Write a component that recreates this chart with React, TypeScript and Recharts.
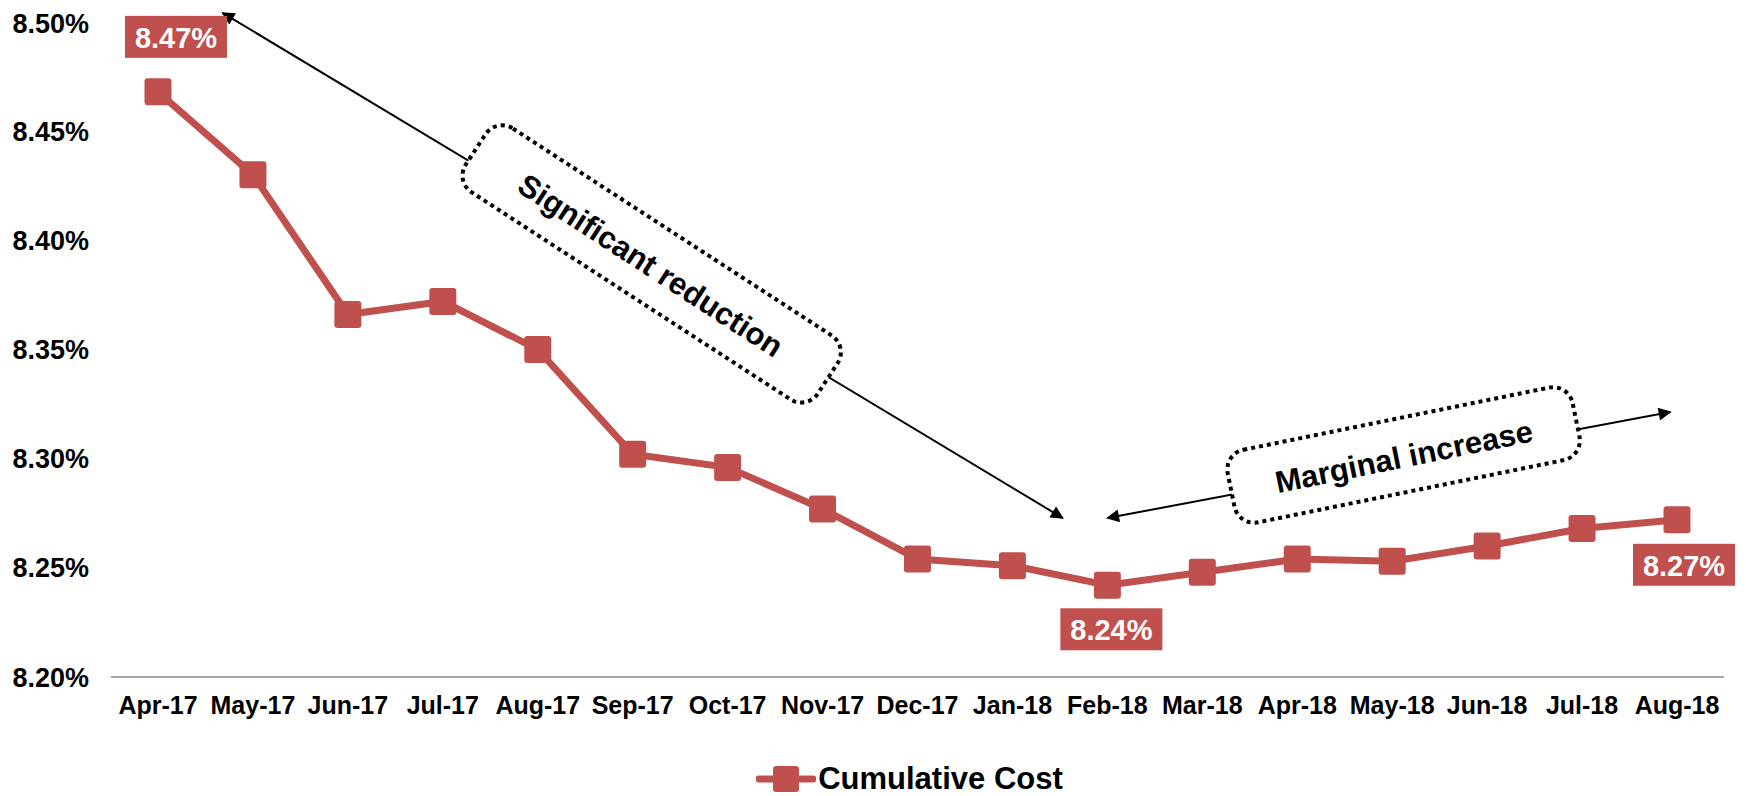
import { LineChart, Line, XAxis, YAxis, Legend, LabelList, ReferenceLine, ReferenceDot } from "recharts";

const months = [
  "Apr-17", "May-17", "Jun-17", "Jul-17", "Aug-17", "Sep-17", "Oct-17", "Nov-17", "Dec-17",
  "Jan-18", "Feb-18", "Mar-18", "Apr-18", "May-18", "Jun-18", "Jul-18", "Aug-18",
];
const cumulativeCost = [
  8.468, 8.43, 8.366, 8.372, 8.35, 8.302, 8.296, 8.277, 8.254,
  8.251, 8.242, 8.248, 8.254, 8.253, 8.26, 8.268, 8.272,
];
const yTicks = [8.2, 8.25, 8.3, 8.35, 8.4, 8.45, 8.5];
const labelledPoints = [0, 10, 16];

const RED = "#C0504D";
const FONT = "'Liberation Sans', Arial, sans-serif";

// label box offsets from the point (px)
const labelOffset: Record<number, [number, number]> = {
  0: [18, -55],
  10: [4, 44],
  16: [7, 45],
};

// annotation arrows, in (month index, value) units
const arrows = [
  { from: { x: 0.68, y: 8.5042 }, to: { x: 9.53, y: 8.2728 } },
  { from: { x: 10.0, y: 8.2728 }, to: { x: 15.93, y: 8.3214 } },
];
const notes = [
  { text: "Significant reduction", x: 5.2, y: 8.3892, angle: 33, w: 420, h: 76 },
  { text: "Marginal increase", x: 13.12, y: 8.3017, angle: -11.5, w: 352, h: 74 },
];

const data = months.map((m, i) => ({ month: m, cost: cumulativeCost[i] }));

const SquareDot = (p: any) => {
  if (p.cx == null || p.cy == null) return null;
  return <rect key={p.index} x={p.cx - 13.5} y={p.cy - 13.5} width={27} height={27} rx={3} fill={RED} />;
};

const ValueLabel = (p: any) => {
  const idx = p.index ?? cumulativeCost.indexOf(p.value);
  if (!labelledPoints.includes(idx)) return null;
  const [dx, dy] = labelOffset[idx];
  const cx = p.x + dx;
  const cy = p.y + dy;
  return (
    <g>
      <rect x={cx - 51} y={cy - 21} width={102} height={42} fill={RED} />
      <text x={cx} y={cy + 1} textAnchor="middle" dominantBaseline="central" fill="#fff" fontSize={29} fontWeight="bold" fontFamily={FONT}>
        {`${Number(p.value).toFixed(2)}%`}
      </text>
    </g>
  );
};

const ArrowShape = (p: any, id: number) => (
  <g>
    <defs>
      <marker id={`ah${id}`} viewBox="0 0 10 10" refX="9" refY="5" markerWidth="15" markerHeight="13" markerUnits="userSpaceOnUse" orient="auto-start-reverse">
        <path d="M0,0 L10,5 L0,10 z" fill="#000" />
      </marker>
    </defs>
    <line
      x1={p.x1} y1={p.y1} x2={p.x2} y2={p.y2}
      stroke="#000" strokeWidth={2}
      markerStart={`url(#ah${id})`} markerEnd={`url(#ah${id})`}
    />
  </g>
);

const NoteShape = (p: any, n: (typeof notes)[number]) => (
  <g transform={`translate(${p.cx},${p.cy}) rotate(${n.angle})`}>
    <rect x={-n.w / 2} y={-n.h / 2} width={n.w} height={n.h} rx={20} fill="#fff" stroke="#000" strokeWidth={4} strokeDasharray="4 4" />
    <text x={0} y={2} textAnchor="middle" dominantBaseline="central" fontSize={31} fontWeight="bold" fontFamily={FONT} fill="#000">
      {n.text}
    </text>
  </g>
);

const renderLegend = () => (
  <div style={{ display: "flex", justifyContent: "center", alignItems: "center", height: 34, paddingLeft: 84, fontFamily: FONT, fontWeight: "bold", fontSize: 31, lineHeight: "34px", color: "#000" }}>
    <svg width={60} height={30}>
      <line x1={3} y1={15} x2={57} y2={15} stroke={RED} strokeWidth={7} strokeLinecap="round" />
      <rect x={17} y={2} width={26} height={26} rx={3} fill={RED} />
    </svg>
    <span style={{ marginLeft: 2 }}>Cumulative Cost</span>
  </div>
);

const App = () => {
  return (
    <div style={{ width: 1730, height: 788 }}>
      <LineChart width={1730} height={788} data={data} margin={{ top: 14, right: 14, left: 3, bottom: 0 }}>
        <XAxis
          dataKey="month"
          padding={{ left: 47, right: 47 }}
          tickLine={false}
          tickSize={0}
          tickMargin={19}
          height={85}
          interval={0}
          axisLine={{ stroke: "#A6A6A6", strokeWidth: 2 }}
          tick={{ fontSize: 25, fontWeight: "bold", fill: "#000", fontFamily: FONT }}
        />
        <XAxis xAxisId="n" type="number" domain={[0, 16]} padding={{ left: 47, right: 47 }} hide allowDataOverflow />
        <YAxis
          domain={[8.2, 8.5]}
          ticks={yTicks}
          width={100}
          axisLine={false}
          tickLine={false}
          tickSize={0}
          tickMargin={22}
          allowDataOverflow
          tickFormatter={(v: number) => `${v.toFixed(2)}%`}
          tick={{ fontSize: 27, fontWeight: "bold", fill: "#000", fontFamily: FONT }}
        />
        {arrows.map((a, i) => (
          <ReferenceLine
            key={`a${i}`}
            xAxisId="n"
            segment={[a.from, a.to]}
            ifOverflow="visible"
            shape={(p: any) => ArrowShape(p, i)}
          />
        ))}
        {notes.map((n, i) => (
          <ReferenceDot
            key={`n${i}`}
            xAxisId="n"
            x={n.x}
            y={n.y}
            r={1}
            ifOverflow="visible"
            shape={(p: any) => NoteShape(p, n)}
          />
        ))}
        <Line
          dataKey="cost"
          name="Cumulative Cost"
          stroke={RED}
          strokeWidth={7}
          dot={SquareDot}
          activeDot={false}
          isAnimationActive={false}
        >
          <LabelList dataKey="cost" content={ValueLabel} />
        </Line>
        <Legend verticalAlign="bottom" height={34} content={renderLegend} />
      </LineChart>
    </div>
  );
};

export default App;
